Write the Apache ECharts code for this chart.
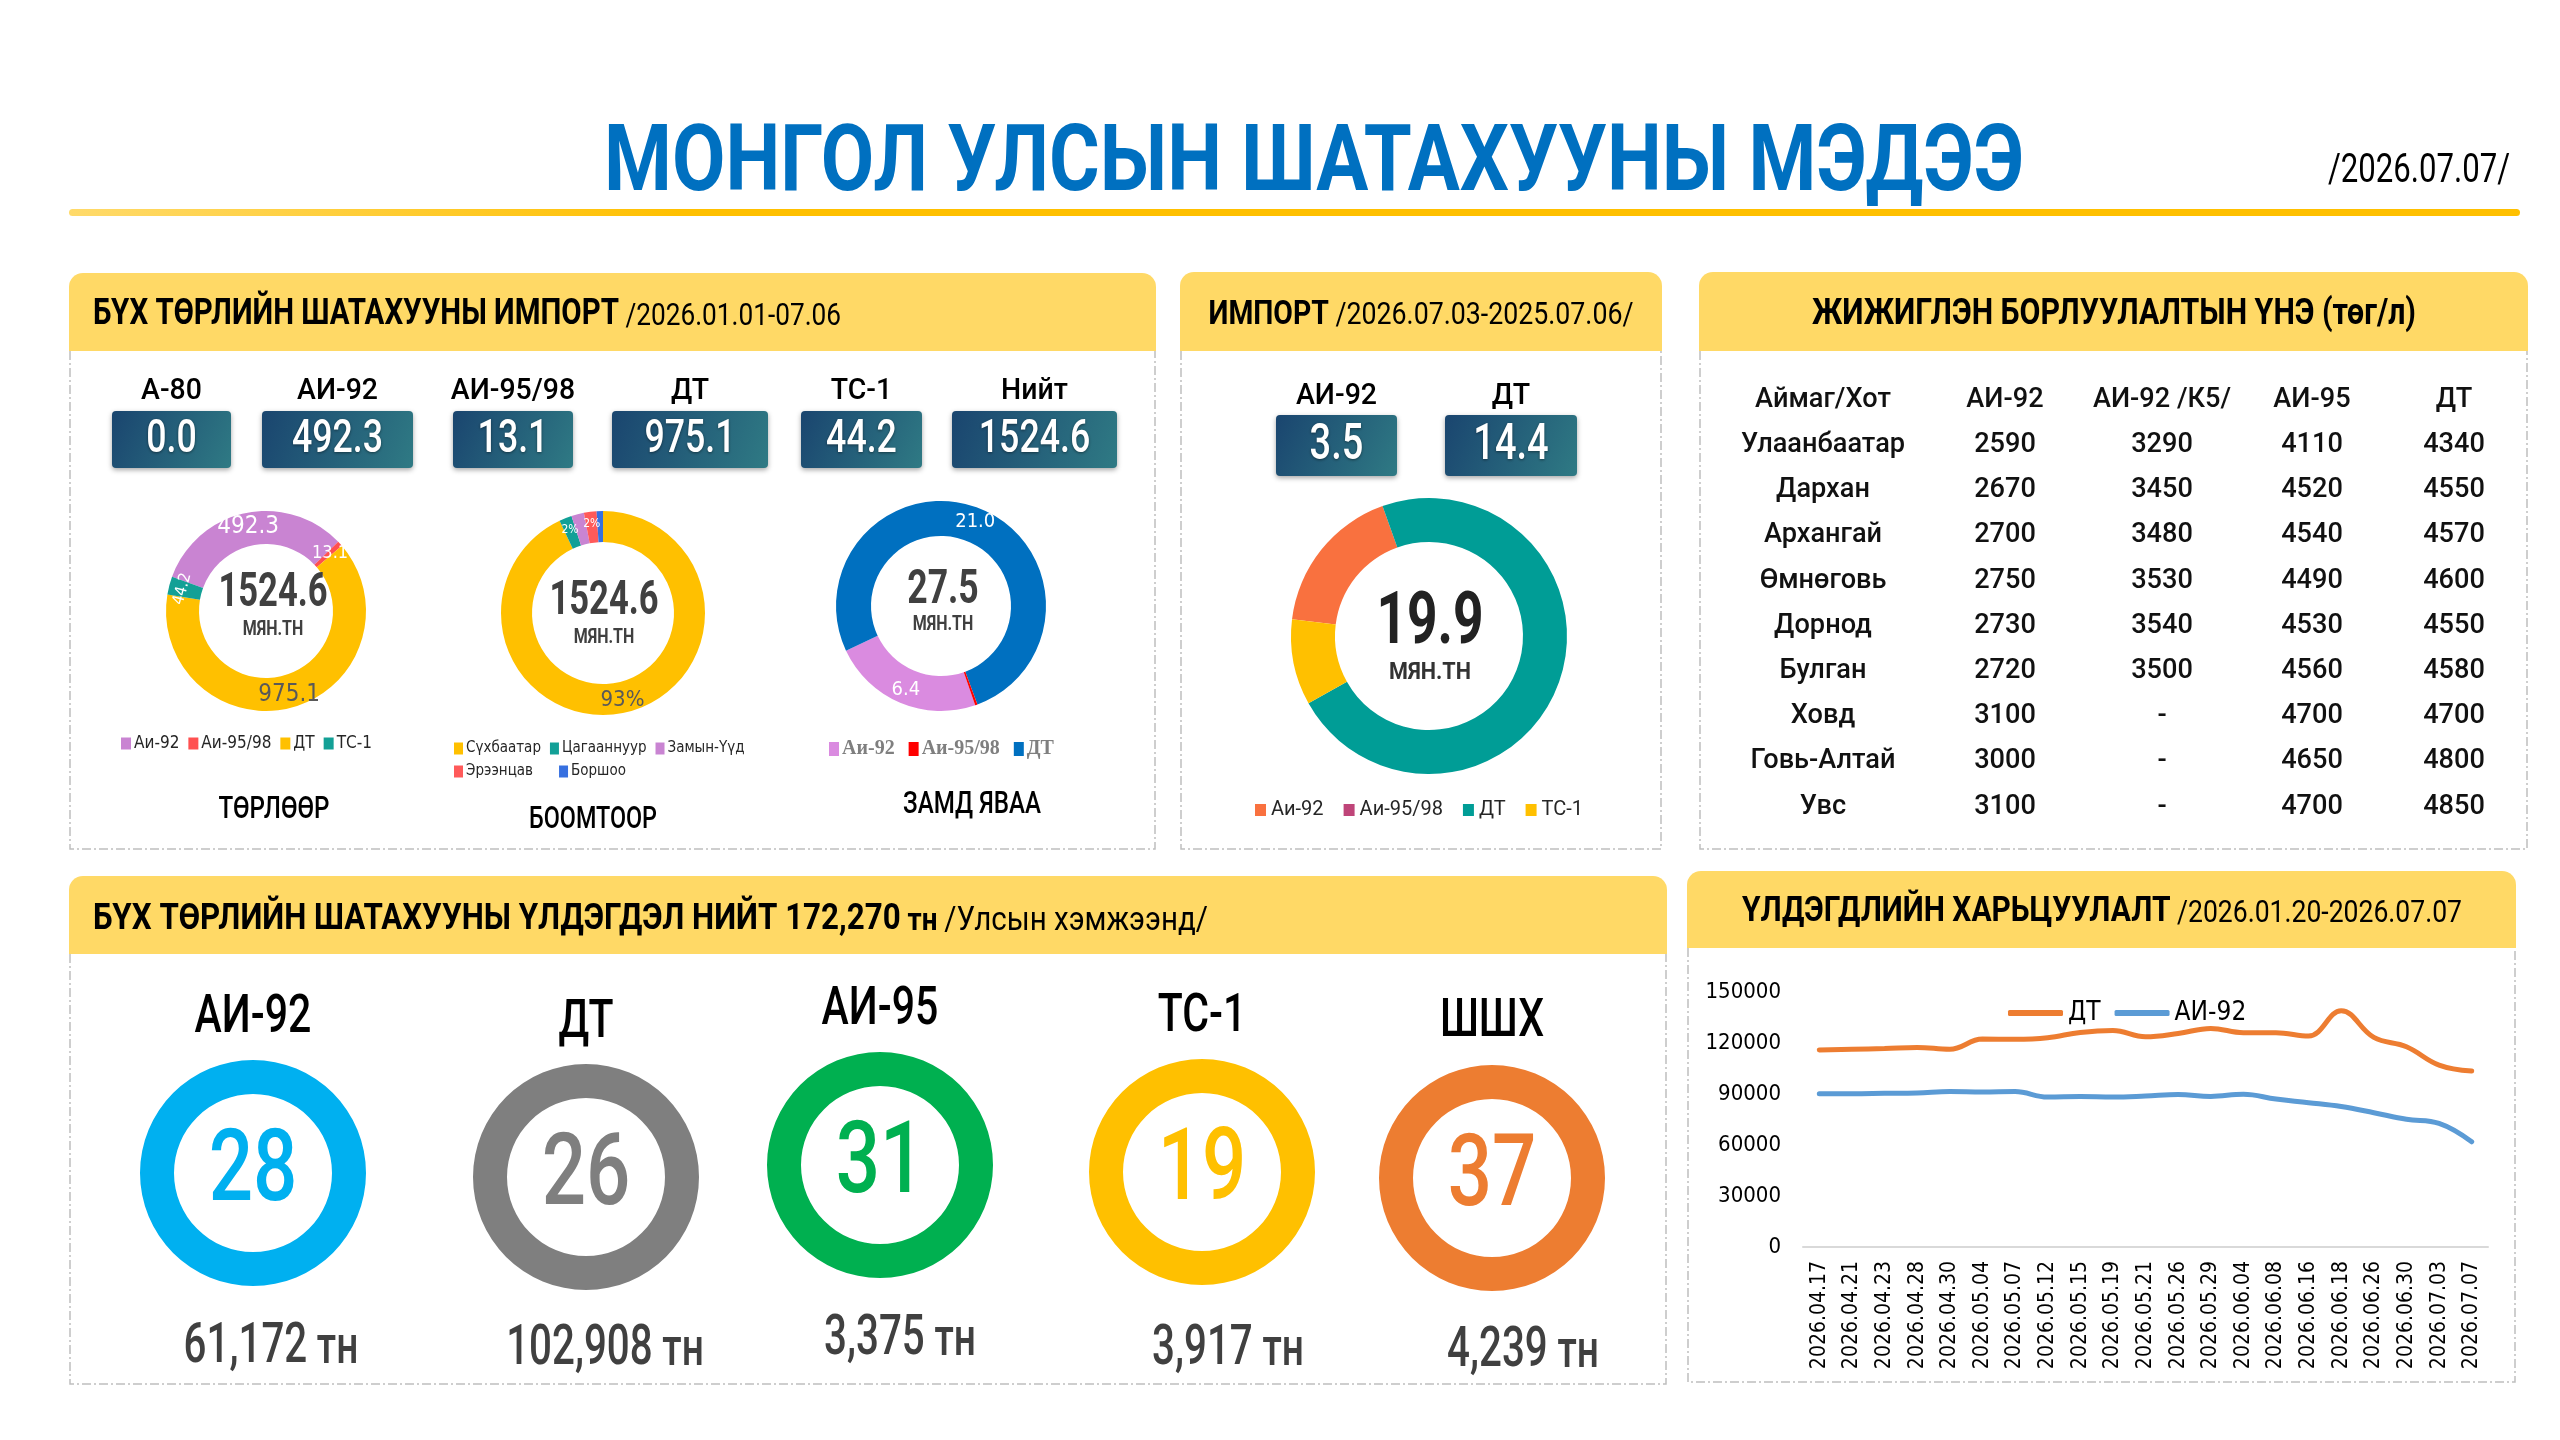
<!DOCTYPE html>
<html><head><meta charset="utf-8">
<script src="https://cdn.jsdelivr.net/npm/echarts@6/dist/echarts.min.js"></script>
<style>html,body{margin:0;padding:0;background:#fff}#c{width:2560px;height:1440px}</style>
</head><body><div id="c"></div>
<script>
// ---------------- DATA ----------------
const pageTitle = 'МОНГОЛ УЛСЫН ШАТАХУУНЫ МЭДЭЭ';
const reportDate = '/2026.07.07/';
const importLabels = ['А-80', 'АИ-92', 'АИ-95/98', 'ДТ', 'ТС-1', 'Нийт'];
const importValues = [0.0, 492.3, 13.1, 975.1, 44.2, 1524.6];
const byTypeNames = ['А-80', 'Аи-92', 'Аи-95/98', 'ДТ', 'ТС-1'];
const byTypeValues = [0, 492.3, 13.1, 975.1, 44.2];
const byTypeTotal = 1524.6;
const byPortNames = ['Сүхбаатар', 'Цагааннуур', 'Замын-Үүд', 'Эрээнцав', 'Боршоо'];
const byPortShares = [93, 2, 2, 2, 1];
const byPortTotal = 1524.6;
const onRoadNames = ['Аи-92', 'Аи-95/98', 'ДТ'];
const onRoadValues = [6.4, 0.1, 21.0];
const onRoadTotal = 27.5;
const weekBoxLabels = ['АИ-92', 'ДТ'];
const weekBoxValues = [3.5, 14.4];
const weekNames = ['Аи-92', 'Аи-95/98', 'ДТ', 'ТС-1'];
const weekValues = [3.5, 0, 14.4, 2.0];
const weekTotal = 19.9;
const priceHeaders = ['Аймаг/Хот', 'АИ-92', 'АИ-92 /К5/', 'АИ-95', 'ДТ'];
const regions = ['Улаанбаатар', 'Дархан', 'Архангай', 'Өмнөговь', 'Дорнод', 'Булган', 'Ховд', 'Говь-Алтай', 'Увс'];
const priceAI92 = [2590, 2670, 2700, 2750, 2730, 2720, 3100, 3000, 3100];
const priceAI92K5 = [3290, 3450, 3480, 3530, 3540, 3500, null, null, null];
const priceAI95 = [4110, 4520, 4540, 4490, 4530, 4560, 4700, 4650, 4700];
const priceDT = [4340, 4550, 4570, 4600, 4550, 4580, 4700, 4800, 4850];
const stockTotal = '172,270';
const stockFuels = ['АИ-92', 'ДТ', 'АИ-95', 'ТС-1', 'ШШХ'];
const stockDays = [28, 26, 31, 19, 37];
const stockTonnes = [61172, 102908, 3375, 3917, 4239];
const trendDates = ['2026.04.17', '2026.04.21', '2026.04.23', '2026.04.28', '2026.04.30', '2026.05.04', '2026.05.07',
  '2026.05.12', '2026.05.15', '2026.05.19', '2026.05.21', '2026.05.26', '2026.05.29', '2026.06.04', '2026.06.08',
  '2026.06.16', '2026.06.18', '2026.06.26', '2026.06.30', '2026.07.03', '2026.07.07'];
const trendDT = [115900, 116300, 116700, 117400, 116300, 122300, 122200, 123100, 126200, 127400, 123700, 125600,
  128600, 126100, 126100, 124100, 139000, 123300, 117800, 107000, 103500];
const trendAI92 = [90200, 90200, 90400, 90600, 91400, 91200, 91400, 88200, 88600, 88200, 88800, 89700, 88600,
  89800, 87000, 84900, 82600, 79000, 75100, 72700, 61900];

// ---------------- STYLE / LAYOUT ----------------
const FAM = 'Roboto';
const NARROW = '"Liberation Sans Narrow","Arial Narrow","DejaVu Sans Condensed",Roboto,sans-serif';
const HEADER_FILL = '#FFD966';
const mctx = document.createElement('canvas').getContext('2d');
function tw(str, size, weight, fam) { mctx.font = weight + ' ' + size + 'px ' + fam; return mctx.measureText(str).width; }

function txt(x, y, str, size, o) {
  o = o || {};
  const fam = o.family || FAM, wt = o.weight || 'normal';
  let sx = o.sx || 1;
  if (o.w) sx = o.w / tw(str, size, wt, fam);
  const st = { text: str, fontSize: size, fontFamily: fam, fontWeight: wt, fill: o.color || '#000',
    align: o.align || 'center', verticalAlign: 'middle', textAlign: o.align || 'center', textVerticalAlign: 'middle' };
  if (o.shadow) { st.textShadowColor = 'rgba(0,0,0,0.45)'; st.textShadowBlur = 3; st.textShadowOffsetY = 1; }
  return { type: 'text', x: x, y: y, scaleX: sx, z: 20, silent: true, style: st };
}
function rich(x, y, segs, o) {
  o = o || {};
  const fam = o.family || FAM;
  let total = 0, s = ''; const r = {};
  segs.forEach(function (g, i) {
    const wt = g.weight || 'normal';
    total += tw(g.t, g.size, wt, fam);
    r['s' + i] = { fontSize: g.size, fontWeight: wt, fontFamily: fam, fill: g.color || o.color || '#000', verticalAlign: 'bottom' };
    s += '{s' + i + '|' + g.t + '}';
  });
  const sx = o.w ? o.w / total : (o.sx || 1);
  return { type: 'text', x: x, y: y, scaleX: sx, z: 20, silent: true,
    style: { text: s, rich: r, align: o.align || 'center', verticalAlign: 'middle', textAlign: o.align || 'center', textVerticalAlign: 'middle' } };
}
function panel(x, y, w, h, hh) {
  return [
    { type: 'rect', z: 1, silent: true, shape: { x: x, y: y, width: w, height: hh, r: [14, 14, 0, 0] }, style: { fill: HEADER_FILL } },
    { type: 'polyline', z: 1, silent: true, shape: { points: [[x + 1, y + hh], [x + 1, y + h], [x + w - 1, y + h], [x + w - 1, y + hh]] },
      style: { stroke: '#BFBFBF', lineWidth: 1.5, lineDash: [9, 3, 2, 3], fill: null } }
  ];
}
function box(x, y, w, h, val, size) {
  return [
    { type: 'rect', z: 5, silent: true, shape: { x: x, y: y, width: w, height: h, r: 4 },
      style: { fill: new echarts.graphic.LinearGradient(0, 0, 1, 1, [{ offset: 0, color: '#1A456F' }, { offset: 1, color: '#2F7A84' }]),
        shadowBlur: 5, shadowColor: 'rgba(0,0,0,0.35)', shadowOffsetY: 2 } },
    txt(x + w / 2, y + h / 2 + 1, val, size, { color: '#fff', weight: '500', sx: 0.76, shadow: true })
  ];
}

const g = [];
// Title
g.push(txt(1314, 167, pageTitle, 92, { weight: 'bold', color: '#0070C0', w: 1420 }));
g.push(txt(2510, 172, reportDate, 40, { align: 'right', w: 182, color: '#000' }));
g.push({ type: 'rect', z: 2, silent: true, shape: { x: 69, y: 209, width: 2451, height: 7, r: 3.5 },
  style: { fill: new echarts.graphic.LinearGradient(0, 0, 1, 0, [{ offset: 0, color: '#FFDA6A' }, { offset: 0.25, color: '#FFC000' }, { offset: 1, color: '#FFC000' }]) } });

// Panels
g.push.apply(g, panel(69, 273, 1087, 576, 78));
g.push.apply(g, panel(1180, 272, 482, 577, 79));
g.push.apply(g, panel(1699, 272, 829, 577, 79));
g.push.apply(g, panel(69, 876, 1598, 508, 78));
g.push.apply(g, panel(1687, 871, 829, 511, 77));

// Panel 1
g.push(rich(93, 315, [{ t: 'БҮХ ТӨРЛИЙН ШАТАХУУНЫ ИМПОРТ', size: 36, weight: 'bold' }, { t: ' /2026.01.01-07.06', size: 32 }], { align: 'left', w: 748 }));
const p1Boxes = [[112, 119], [262, 151], [453, 120], [612, 156], [801, 121], [952, 165]];
importLabels.forEach(function (lab, i) {
  const b = p1Boxes[i];
  g.push(txt(b[0] + b[1] / 2, 392, lab, 29, { weight: '500', sx: 0.98 }));
  g.push.apply(g, box(b[0], 411, b[1], 57, importValues[i].toFixed(1), 47));
});
g.push(txt(273, 594, byTypeTotal.toFixed(1), 48, { weight: 'bold', color: '#404040', sx: 0.72 }));
g.push(txt(273, 630, 'МЯН.ТН', 20, { weight: 'bold', color: '#404040', sx: 0.8 }));
g.push(txt(604, 602, byPortTotal.toFixed(1), 48, { weight: 'bold', color: '#404040', sx: 0.72 }));
g.push(txt(604, 638, 'МЯН.ТН', 20, { weight: 'bold', color: '#404040', sx: 0.8 }));
g.push(txt(943, 591, onRoadTotal.toFixed(1), 48, { weight: 'bold', color: '#404040', sx: 0.74 }));
g.push(txt(943, 625, 'МЯН.ТН', 20, { weight: 'bold', color: '#404040', sx: 0.8 }));
g.push(txt(274, 810, 'ТӨРЛӨӨР', 31, { weight: '500', w: 111 }));
g.push(txt(593, 820, 'БООМТООР', 31, { weight: '500', w: 128 }));
g.push(txt(972, 805, 'ЗАМД ЯВАА', 31, { weight: '500', w: 138 }));

// Panel 2
g.push(rich(1421, 315, [{ t: 'ИМПОРТ', size: 34, weight: 'bold' }, { t: ' /2026.07.03-2025.07.06/', size: 32 }], { w: 425 }));
const p2Boxes = [[1276, 121], [1445, 132]];
weekBoxLabels.forEach(function (lab, i) {
  const b = p2Boxes[i];
  g.push(txt(b[0] + b[1] / 2, 396, lab, 30, { weight: '500', sx: 0.95 }));
  g.push.apply(g, box(b[0], 415, b[1], 61, weekBoxValues[i].toFixed(1), 50));
});
g.push(txt(1430, 625, weekTotal.toFixed(1), 72, { weight: 'bold', color: '#222', sx: 0.74 }));
g.push(txt(1430, 673, 'МЯН.ТН', 24, { weight: 'bold', color: '#333', sx: 0.9 }));

// Panel 3 (table)
g.push(txt(2114, 315, 'ЖИЖИГЛЭН БОРЛУУЛАЛТЫН ҮНЭ (төг/л)', 36, { weight: 'bold', w: 604 }));
const colX = [1823, 2005, 2162, 2312, 2454];
priceHeaders.forEach(function (h, j) { g.push(txt(colX[j], 400, h, 28, { weight: '500', color: '#111', sx: 0.97 })); });
regions.forEach(function (r, i) {
  const y = 445 + i * 45.2;
  const row = [r, priceAI92[i], priceAI92K5[i], priceAI95[i], priceDT[i]];
  row.forEach(function (v, j) { g.push(txt(colX[j], y, v === null ? '-' : String(v), 28, { weight: '500', color: '#111', sx: 0.97 })); });
});

// Panel 4
g.push(rich(93, 920, [{ t: 'БҮХ ТӨРЛИЙН ШАТАХУУНЫ ҮЛДЭГДЭЛ НИЙТ ' + stockTotal, size: 36, weight: 'bold' },
  { t: ' тн ', size: 32, weight: 'bold' }, { t: '/Улсын хэмжээнд/', size: 34 }], { align: 'left', w: 1115 }));
const stockColors = ['#00B0F0', '#7F7F7F', '#00B050', '#FFC000', '#ED7D31'];
const ringCx = [253, 586, 880, 1202, 1492];
const ringCy = [1173, 1177, 1165, 1172, 1178];
const fuelLabelY = [1018, 1023, 1010, 1017, 1022];
const tonX = [271, 605, 900, 1228, 1523];
const tonY = [1348, 1350, 1340, 1350, 1352];
stockFuels.forEach(function (f, i) {
  g.push(txt(ringCx[i], fuelLabelY[i], f, 54, { weight: '500', sx: 0.76 }));
  g.push(txt(ringCx[i], ringCy[i] + 2, String(stockDays[i]), 100, { weight: '500', color: stockColors[i], sx: 0.78 }));
  g.push(rich(tonX[i], tonY[i], [{ t: stockTonnes[i].toLocaleString('en-US'), size: 56, weight: '500', color: '#404040' },
    { t: ' тн', size: 54, weight: '500', color: '#404040' }], { sx: 0.72 }));
});

// Panel 5
g.push(rich(2102, 912, [{ t: 'ҮЛДЭГДЛИЙН ХАРЬЦУУЛАЛТ', size: 35, weight: 'bold' }, { t: ' /2026.01.20-2026.07.07', size: 31 }], { w: 720 }));

// ---------------- SERIES ----------------
const typeColors = { 'А-80': '#8C8C8C', 'Аи-92': '#C984D2', 'Аи-95/98': '#FF5050', 'ДТ': '#FFC000', 'ТС-1': '#13A096' };
const typeLabel = [
  { color: '#fff', fontSize: 16 }, { color: '#fff', fontSize: 24 }, { color: '#fff', fontSize: 18 },
  { color: '#595959', fontSize: 24 }, { color: '#fff', fontSize: 16, rotate: 'tangential' }];
const portColors = ['#FFC000', '#12A097', '#C984D2', '#FF5A5A', '#3770E0'];
const roadColors = { 'Аи-92': '#DA8BE0', 'Аи-95/98': '#FF0000', 'ДТ': '#0070C0' };
const weekColors = { 'Аи-92': '#F9713F', 'Аи-95/98': '#BF4579', 'ДТ': '#009D96', 'ТС-1': '#FFC000' };

const pieBase = { type: 'pie', silent: true, animation: false, labelLine: { show: false }, emphasis: { disabled: true } };
const series = [];
series.push(Object.assign({}, pieBase, {
  center: [266, 611], radius: [67, 100], startAngle: 160,
  label: { position: 'inside', fontFamily: NARROW, formatter: function (p) { return p.value === 0 ? '-' : p.value.toFixed(1); } },
  data: byTypeNames.map(function (n, i) { return { name: n, value: byTypeValues[i], itemStyle: { color: typeColors[n] }, label: typeLabel[i] }; })
}));
series.push(Object.assign({}, pieBase, {
  center: [603, 613], radius: [71, 102], startAngle: 90,
  label: { position: 'inside', fontFamily: NARROW, formatter: function (p) { return p.value >= 2 ? p.value + '%' : ''; } },
  data: byPortNames.map(function (n, i) {
    return { name: n, value: byPortShares[i], itemStyle: { color: portColors[i] },
      label: i === 0 ? { color: '#595959', fontSize: 22 } : { color: '#fff', fontSize: 12 } };
  })
}));
const roadOrder = [0, 2, 1];
series.push(Object.assign({}, pieBase, {
  center: [941, 606], radius: [70, 105], startAngle: -71,
  label: { position: 'inside', fontFamily: NARROW, color: '#fff', fontSize: 20, formatter: function (p) { return p.value >= 1 ? p.value.toFixed(1) : ''; } },
  data: roadOrder.map(function (i) { return { name: onRoadNames[i], value: onRoadValues[i], itemStyle: { color: roadColors[onRoadNames[i]] } }; })
}));
series.push(Object.assign({}, pieBase, {
  center: [1429, 636], radius: [94, 138], startAngle: 173, label: { show: false },
  data: weekNames.map(function (n, i) { return { name: n, value: weekValues[i], itemStyle: { color: weekColors[n] } }; })
}));
stockFuels.forEach(function (f, i) {
  series.push(Object.assign({}, pieBase, {
    center: [ringCx[i], ringCy[i]], radius: [79, 113], startAngle: 90, label: { show: false },
    data: [{ name: f + ' хоног', value: stockDays[i], itemStyle: { color: stockColors[i] } }]
  }));
});
series.push({ type: 'line', name: 'ДТ', data: trendDT, smooth: 0.4, symbol: 'none', animation: false, silent: true,
  lineStyle: { width: 5, color: '#ED7D31', cap: 'round' }, itemStyle: { color: '#ED7D31' } });
series.push({ type: 'line', name: 'АИ-92', data: trendAI92, smooth: 0.4, symbol: 'none', animation: false, silent: true,
  lineStyle: { width: 5, color: '#5B9BD5', cap: 'round' }, itemStyle: { color: '#5B9BD5' } });

function legendItems(names, colorOf) { return names.map(function (n, i) { return { name: n, itemStyle: { color: colorOf(n, i) } }; }); }
const legendBase = { orient: 'horizontal', icon: 'rect', selectedMode: false, padding: 0 };
const legends = [
  Object.assign({}, legendBase, { left: 121, top: 735, itemWidth: 10, itemHeight: 12, itemGap: 9,
    textStyle: { fontSize: 17, fontFamily: NARROW, color: '#262626', padding: [0, 0, 0, -2] },
    data: legendItems(byTypeNames.slice(1), function (n) { return typeColors[n]; }) }),
  Object.assign({}, legendBase, { left: 454, top: 741, itemWidth: 9, itemHeight: 12, itemGap: 9,
    textStyle: { fontSize: 15, fontFamily: NARROW, color: '#262626', padding: [0, 0, 0, -2] },
    data: legendItems(byPortNames.slice(0, 3), function (n, i) { return portColors[i]; }) }),
  Object.assign({}, legendBase, { left: 454, top: 764, itemWidth: 9, itemHeight: 12, itemGap: 26,
    textStyle: { fontSize: 15, fontFamily: NARROW, color: '#262626', padding: [0, 0, 0, -2] },
    data: legendItems(byPortNames.slice(3), function (n, i) { return portColors[i + 3]; }) }),
  Object.assign({}, legendBase, { left: 829, top: 739, itemWidth: 10, itemHeight: 14, itemGap: 14,
    textStyle: { fontSize: 20, fontFamily: '"Liberation Serif", "DejaVu Serif", serif', fontWeight: 'bold', color: '#7F7F7F', padding: [0, 0, 0, -2] },
    data: legendItems(onRoadNames, function (n) { return roadColors[n]; }) }),
  Object.assign({}, legendBase, { left: 1255, top: 800, itemWidth: 11, itemHeight: 12, itemGap: 20,
    textStyle: { fontSize: 20, fontFamily: FAM, color: '#262626' },
    data: legendItems(weekNames, function (n) { return weekColors[n]; }) }),
  Object.assign({}, legendBase, { left: 2008, top: 1000, icon: 'roundRect', itemWidth: 55, itemHeight: 6, itemGap: 14,
    textStyle: { fontSize: 26, fontFamily: NARROW, color: '#000' },
    data: [{ name: 'ДТ', itemStyle: { color: '#ED7D31' } }, { name: 'АИ-92', itemStyle: { color: '#5B9BD5' } }] })
];

const chart = echarts.init(document.getElementById('c'), null, { renderer: 'canvas', width: 2560, height: 1440 });
chart.setOption({
  backgroundColor: '#ffffff',
  animation: false,
  legend: legends,
  grid: { left: 1803, top: 992, width: 685, height: 255, containLabel: false },
  xAxis: { type: 'category', data: trendDates, boundaryGap: true,
    axisLine: { lineStyle: { color: '#D9D9D9', width: 2 } }, axisTick: { show: false },
    axisLabel: { rotate: 90, interval: 0, fontSize: 21, fontWeight: '500', fontFamily: NARROW, color: '#000', margin: 14 } },
  yAxis: { type: 'value', min: 0, max: 150000, interval: 30000,
    axisLine: { show: false }, axisTick: { show: false }, splitLine: { show: false },
    axisLabel: { fontSize: 22, fontFamily: NARROW, color: '#000', margin: 22, formatter: function (v) { return String(v); } } },
  series: series,
  graphic: { elements: g }
});
</script></body></html>
